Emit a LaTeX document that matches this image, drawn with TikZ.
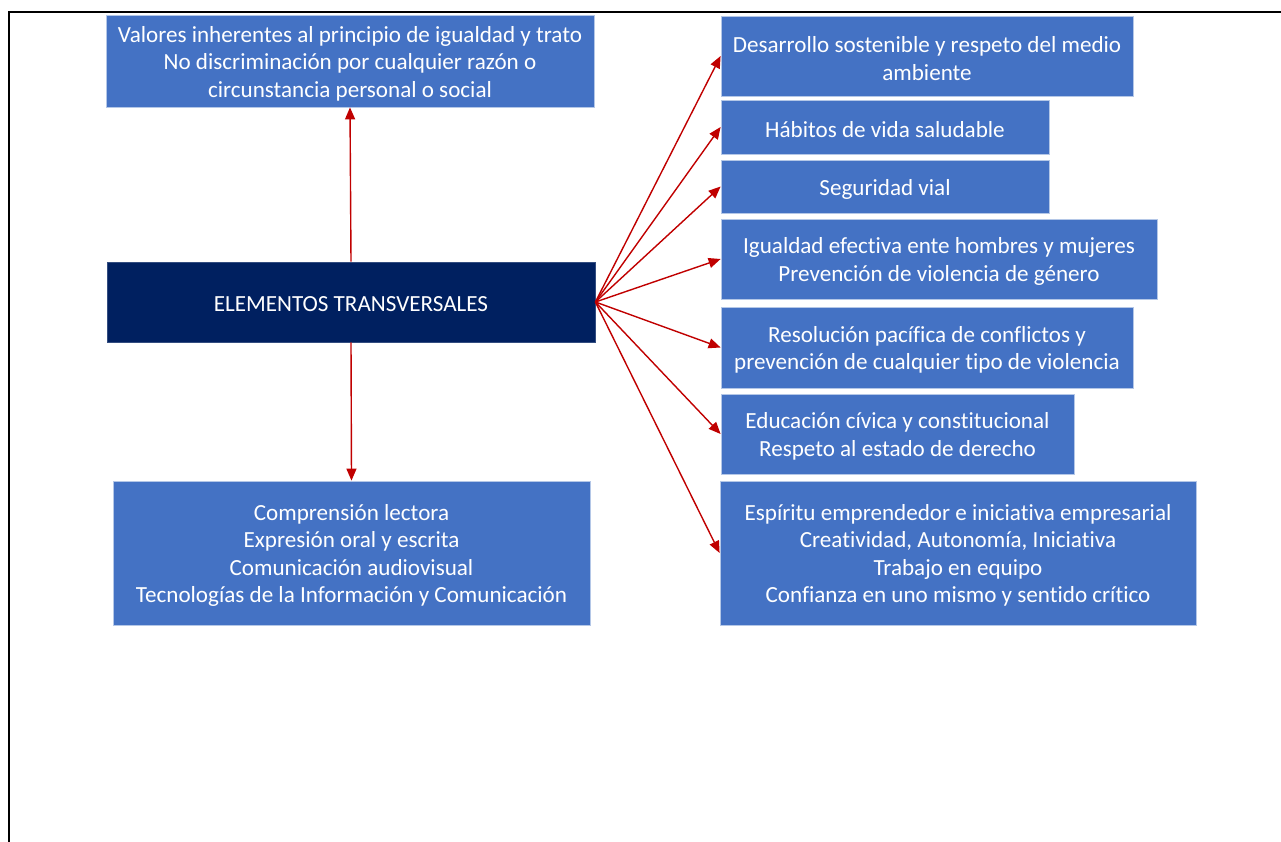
\documentclass[tikz,border=0pt]{standalone}
\usepackage{fontspec}
\setmainfont{Carlito}[Ligatures=NoCommon]
\usetikzlibrary{arrows.meta}
\definecolor{boxblue}{HTML}{4472C4}
\definecolor{boxedge}{HTML}{B4C7E7}
\definecolor{darknavy}{HTML}{002060}
\definecolor{arrowred}{HTML}{C00000}
\begin{document}
\begin{tikzpicture}[x=1pt,y=-1pt,
  bluebox/.style={fill=boxblue, draw=boxedge, line width=0.8pt, inner sep=0pt},
  navybox/.style={fill=darknavy, draw=darknavy!80!white, line width=0.8pt, inner sep=0pt},
  boxtext/.style={text=white, inner sep=0pt, align=center, yshift=-2.5pt,
    font=\fontsize{23.1}{27.5}\selectfont},
  link/.style={draw=arrowred, line width=1.4pt, -{Triangle[length=12pt,width=10pt]}},
  frameline/.style={draw=black, line width=2pt}]
\useasboundingbox (0,0) rectangle (1281,842);
% page frame (top and left edges)
\coordinate (fTR) at (1281,12);
\coordinate (fTL) at (9,12);
\coordinate (fBL) at (9,842);
\draw[frameline] (fTR) -- (fTL) -- (fBL);
% boxes
\node[bluebox, minimum width=488, minimum height=92,
  label={[boxtext]center:{Valores inherentes al principio de igualdad y trato\\No discriminación por cualquier razón o\\circunstancia personal o social}}] (top) at (350,61) {};
\node[navybox, minimum width=488, minimum height=80,
  label={[boxtext]center:{ELEMENTOS TRANSVERSALES}}] (elem) at (351,302) {};
\node[bluebox, minimum width=477, minimum height=144,
  label={[boxtext]center:{Comprensión lectora\\Expresión oral y escrita\\Comunicación audiovisual\\Tecnologías de la Información y Comunicación}}] (bot) at (351.5,553) {};
\node[bluebox, minimum width=412, minimum height=80,
  label={[boxtext]center:{Desarrollo sostenible y respeto del medio\\ambiente}}] (r1) at (927,56) {};
\node[bluebox, minimum width=328, minimum height=54,
  label={[boxtext]center:{Hábitos de vida saludable}}] (r2) at (885,127) {};
\node[bluebox, minimum width=328, minimum height=53,
  label={[boxtext]center:{Seguridad vial}}] (r3) at (885,186.5) {};
\node[bluebox, minimum width=436, minimum height=80,
  label={[boxtext]center:{Igualdad efectiva ente hombres y mujeres\\Prevención de violencia de género}}] (r4) at (939,259) {};
\node[bluebox, minimum width=412, minimum height=81,
  label={[boxtext]center:{Resolución pacífica de conflictos y\\prevención de cualquier tipo de violencia}}] (r5) at (927,347.5) {};
\node[bluebox, minimum width=353, minimum height=80,
  label={[boxtext]center:{Educación cívica y constitucional\\Respeto al estado de derecho}}] (r6) at (897.5,434) {};
\node[bluebox, minimum width=476, minimum height=144,
  label={[boxtext]center:{Espíritu emprendedor e iniciativa empresarial\\Creatividad, Autonomía, Iniciativa\\Trabajo en equipo\\Confianza en uno mismo y sentido crítico}}] (r7) at (958,553) {};
% connectors
\draw[link] (elem.north) -- (top.south);
\draw[link] (elem.south) -- (bot.north);
\foreach \t in {r1,r2,r3,r4,r5,r6,r7}
  \draw[link] (elem.east) -- (\t.west);
\end{tikzpicture}
\end{document}
